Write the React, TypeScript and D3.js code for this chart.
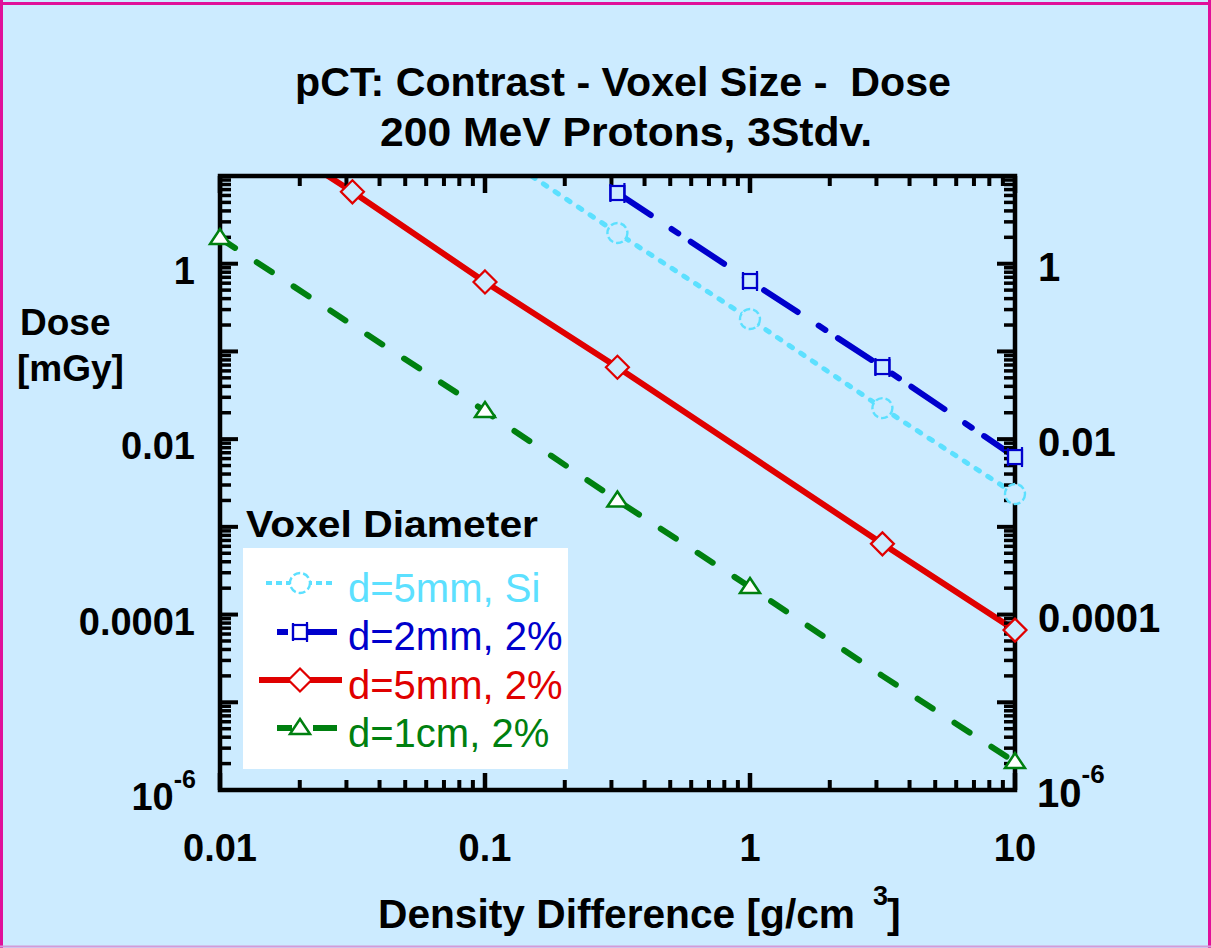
import React from 'react';
import * as d3 from 'd3';

// ---------- data ----------
const densitySi5mm = [0.1, 0.316, 1, 3.16, 10];
const doseSi5mm = [22.4, 2.24, 0.234, 0.0226, 0.00237];
const markSi5mm = [false, true, true, true, true];

const density2mm = [0.316, 1, 3.16, 10];
const dose2mm = [6.4, 0.635, 0.0664, 0.00625];
const mark2mm = [true, true, true, true];

const density5mm = [0.01, 0.0316, 0.1, 0.316, 1, 3.16, 10];
const dose5mm = [63, 6.6, 0.62, 0.066, 0.0065, 0.00064, 0.0000665];
const mark5mm = [false, true, true, true, false, true, true];

const density1cm = [0.01, 0.0316, 0.1, 0.316, 1, 3.16, 10];
const dose1cm = [1.96, 0.2, 0.0209, 0.002, 0.000206, 0.00002, 0.00000208];
const mark1cm = [true, false, true, true, true, false, true];

const legendLabels = ['d=5mm, Si', 'd=2mm, 2%', 'd=5mm, 2%', 'd=1cm, 2%'];
const xTickLabels = ['0.01', '0.1', '1', '10'];
const xTickValues = [0.01, 0.1, 1, 10];
const yTickValues = [1, 0.01, 0.0001, 1e-6];
const yTickLabels = ['1', '0.01', '0.0001', '10^-6'];

const titleLine1 = 'pCT: Contrast - Voxel Size -  Dose';
const titleLine2 = '200 MeV Protons, 3Stdv.';

// ---------- layout ----------
const W = 1211;
const H = 948;
const PL = 220, PR = 1015, PT = 176, PB = 790;
const BG = '#CCEBFF';
const CYAN = '#5CE0FF';
const BLUE = '#0000CC';
const RED = '#E00000';
const GREEN = '#008010';
const FONT = "'Liberation Sans', Arial, Helvetica, sans-serif";
const NARROW = "'Liberation Sans Narrow', 'Liberation Sans', Arial, sans-serif";

const xScale = d3.scaleLog().domain([0.01, 10]).range([PL, PR]);
const yScale = d3.scaleLog().domain([1e-6, 10]).range([PB, PT]);

type Pt = { x: number; y: number; m: boolean };
const mk = (xs: number[], ys: number[], ms: boolean[]): Pt[] =>
  xs.map((x, i) => ({ x, y: ys[i], m: ms[i] }));

const series = [
  { key: 'si', pts: mk(densitySi5mm, doseSi5mm, markSi5mm), color: CYAN, width: 5, dash: '4 10', cap: 'round', marker: 'circle' },
  { key: 'b2', pts: mk(density2mm, dose2mm, mark2mm), color: BLUE, width: 6, dash: '40 25 8 15', cap: 'round', marker: 'square' },
  { key: 'r5', pts: mk(density5mm, dose5mm, mark5mm), color: RED, width: 6, dash: undefined, cap: 'butt', marker: 'diamond' },
  { key: 'g1', pts: mk(density1cm, dose1cm, mark1cm), color: GREEN, width: 6, dash: '18 26', cap: 'round', marker: 'triangle' },
];

const line = d3
  .line<Pt>()
  .x((d) => xScale(d.x))
  .y((d) => yScale(d.y));

function Marker({ type, x, y, color, fill }: { type: string; x: number; y: number; color: string; fill: string }) {
  if (type === 'circle') {
    return <circle cx={x} cy={y} r={10} fill={fill} stroke={color} strokeWidth={2.4} strokeDasharray="7 3" />;
  }
  if (type === 'square') {
    return (
      <g stroke={color} strokeWidth={2.2} fill={fill}>
        <rect x={x - 7} y={y - 7} width={14} height={14} />
        <line x1={x + 7} y1={y - 10} x2={x + 7} y2={y + 10} />
        <line x1={x - 7} y1={y - 9} x2={x - 7} y2={y + 9} />
      </g>
    );
  }
  if (type === 'diamond') {
    const s = 11.5;
    return (
      <path
        d={`M${x},${y - s}L${x + s},${y}L${x},${y + s}L${x - s},${y}Z`}
        fill={fill}
        stroke={color}
        strokeWidth={2.2}
      />
    );
  }
  return (
    <path
      d={`M${x},${y - 9}L${x + 10},${y + 6}L${x - 10},${y + 6}Z`}
      fill="#ffffff"
      stroke={color}
      strokeWidth={2.5}
    />
  );
}

export default function App() {
  const minorY: number[] = [];
  for (let e = -6; e < 1; e++) {
    for (let k = 2; k <= 9; k++) minorY.push(k * Math.pow(10, e));
  }
  const majorY: number[] = [];
  for (let e = -6; e <= 1; e++) majorY.push(Math.pow(10, e));
  const minorX: number[] = [];
  for (let e = -2; e < 1; e++) {
    for (let k = 2; k <= 9; k++) minorX.push(k * Math.pow(10, e));
  }
  const majorX = xTickValues;

  const legendYs = [583, 632, 680, 728];
  const legendTextYs = [602, 650, 699, 747];

  return (
    <svg
      width={W}
      height={H}
      viewBox={`0 0 ${W} ${H}`}
      style={{ position: 'absolute', left: 0, top: 0, display: 'block' }}
    >
      <defs>
        <clipPath id="plotclip">
          <rect x={PL} y={PT} width={PR - PL} height={PB - PT} />
        </clipPath>
      </defs>
      <rect x={0} y={0} width={W} height={H} fill={BG} />
      <line x1={0} y1={3.5} x2={W} y2={3.5} stroke="#E0109A" strokeWidth={3} />
      <line x1={1.5} y1={0} x2={1.5} y2={H} stroke="#E0109A" strokeWidth={3} />
      <line x1={1209.5} y1={0} x2={1209.5} y2={H} stroke="#E0109A" strokeWidth={3} />
      <line x1={0} y1={946.5} x2={W} y2={946.5} stroke="#D49AD8" strokeWidth={2} />

      {/* title */}
      <text x={295} y={96} fontFamily={NARROW} fontWeight="bold" fontSize={41} textLength={656} lengthAdjust="spacingAndGlyphs" style={{ whiteSpace: 'pre' }}>
        {titleLine1}
      </text>
      <text x={380} y={146} fontFamily={NARROW} fontWeight="bold" fontSize={41} textLength={492} lengthAdjust="spacingAndGlyphs" style={{ whiteSpace: 'pre' }}>
        {titleLine2}
      </text>

      {/* y label */}
      <text x={20} y={335} fontFamily={FONT} fontWeight="bold" fontSize={37}>Dose</text>
      <text x={17} y={381} fontFamily={FONT} fontWeight="bold" fontSize={37}>[mGy]</text>

      {/* series lines */}
      <g clipPath="url(#plotclip)">
        {series.map((s) => (
          <path
            key={s.key}
            d={line(s.pts) || ''}
            fill="none"
            stroke={s.color}
            strokeWidth={s.width}
            strokeDasharray={s.dash}
            strokeLinecap={s.cap as any}
          />
        ))}
      </g>

      {/* ticks */}
      <g stroke="#000">
        {minorY.map((v) => (
          <g key={'my' + v}>
            <line x1={PL} x2={PL + 11} y1={yScale(v)} y2={yScale(v)} strokeWidth={3.5} />
            <line x1={PR} x2={PR - 11} y1={yScale(v)} y2={yScale(v)} strokeWidth={3.5} />
          </g>
        ))}
        {majorY.map((v) => (
          <g key={'My' + v}>
            <line x1={PL} x2={PL + 18} y1={yScale(v)} y2={yScale(v)} strokeWidth={4} />
            <line x1={PR} x2={PR - 18} y1={yScale(v)} y2={yScale(v)} strokeWidth={4} />
          </g>
        ))}
        {minorX.map((v) => (
          <g key={'mx' + v}>
            <line x1={xScale(v)} x2={xScale(v)} y1={PT} y2={PT + 10} strokeWidth={4} />
            <line x1={xScale(v)} x2={xScale(v)} y1={PB} y2={PB - 10} strokeWidth={4} />
          </g>
        ))}
        {majorX.map((v) => (
          <g key={'Mx' + v}>
            <line x1={xScale(v)} x2={xScale(v)} y1={PT} y2={PT + 17} strokeWidth={4.5} />
            <line x1={xScale(v)} x2={xScale(v)} y1={PB} y2={PB - 17} strokeWidth={4.5} />
          </g>
        ))}
      </g>
      <rect x={PL} y={PT} width={PR - PL} height={PB - PT} fill="none" stroke="#000" strokeWidth={4.5} />

      {/* markers */}
      {series.map((s) =>
        s.pts
          .filter((p) => p.m)
          .map((p, i) => (
            <Marker key={s.key + i} type={s.marker} x={xScale(p.x)} y={yScale(p.y)} color={s.color} fill={BG} />
          ))
      )}

      {/* x tick labels */}
      {xTickValues.map((v, i) => (
        <text key={'xl' + v} x={xScale(v)} y={861} textAnchor="middle" fontFamily={FONT} fontWeight="bold" fontSize={38}>
          {xTickLabels[i]}
        </text>
      ))}

      {/* y tick labels left and right */}
      {yTickValues.map((v, i) => {
        const lab = yTickLabels[i];
        const yl = yScale(v) + 20;
        const yr = yScale(v) + 17;
        if (lab === '10^-6') {
          return (
            <g key={'yl' + i} fontFamily={FONT} fontWeight="bold">
              <text x={196} y={yl} textAnchor="end">
                <tspan fontSize={38}>10</tspan>
                <tspan fontSize={25} dy={-22}>-6</tspan>
              </text>
              <text x={1037} y={yr}>
                <tspan fontSize={40}>10</tspan>
                <tspan fontSize={26} dy={-24}>-6</tspan>
              </text>
            </g>
          );
        }
        return (
          <g key={'yl' + i} fontFamily={FONT} fontWeight="bold">
            <text x={195} y={yl} textAnchor="end" fontSize={38}>{lab}</text>
            <text x={1038} y={yr} fontSize={40}>{lab}</text>
          </g>
        );
      })}

      {/* x label */}
      <text x={378} y={928} fontFamily={NARROW} fontWeight="bold" fontSize={41} textLength={477} lengthAdjust="spacingAndGlyphs">
        Density Difference [g/cm
      </text>
      <text x={873} y={905} fontFamily={NARROW} fontWeight="bold" fontSize={27}>3</text>
      <text x={887} y={928} fontFamily={NARROW} fontWeight="bold" fontSize={41}>]</text>

      {/* legend */}
      <text x={246} y={537} fontFamily={FONT} fontWeight="bold" fontSize={37} textLength={292} lengthAdjust="spacingAndGlyphs">
        Voxel Diameter
      </text>
      <rect x={243} y={548} width={325} height={221} fill="#ffffff" />
      {series.map((s, i) => {
        const ly = legendYs[i];
        return (
          <g key={'lg' + s.key}>
            {s.key === 'b2' ? (
              <>
                <line x1={277} x2={288} y1={ly} y2={ly} stroke={s.color} strokeWidth={s.width} />
                <line x1={305} x2={337} y1={ly} y2={ly} stroke={s.color} strokeWidth={s.width} />
              </>
            ) : s.key === 'g1' ? (
              <>
                <line x1={277} x2={292} y1={ly} y2={ly} stroke={s.color} strokeWidth={s.width} />
                <line x1={313} x2={337} y1={ly} y2={ly} stroke={s.color} strokeWidth={s.width} />
              </>
            ) : s.key === 'si' ? (
              <line x1={266} x2={333} y1={ly} y2={ly} stroke={s.color} strokeWidth={4} strokeDasharray="6 4" />
            ) : (
              <line x1={259} x2={342} y1={ly} y2={ly} stroke={s.color} strokeWidth={s.width} />
            )}
            <Marker type={s.marker} x={300} y={ly} color={s.color} fill="#ffffff" />
            <text x={348} y={legendTextYs[i]} fontFamily={FONT} fontSize={40} fill={s.color}>
              {legendLabels[i]}
            </text>
          </g>
        );
      })}
    </svg>
  );
}
